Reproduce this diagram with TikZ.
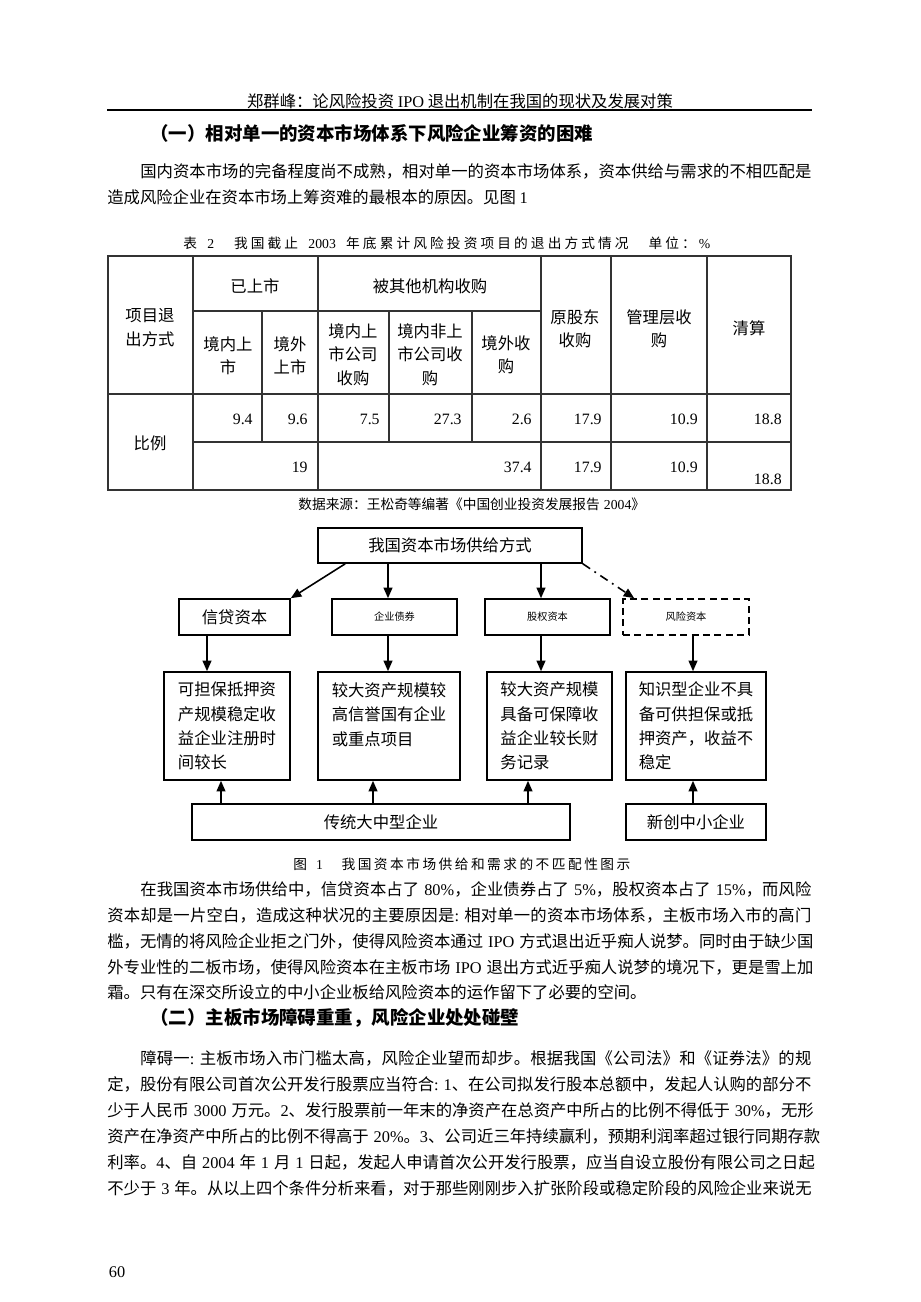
\documentclass[tikz,border=0pt]{standalone}
\usepackage{fontspec}
\setmainfont{Liberation Serif}
\newfontfamily\cjk{Noto Sans CJK SC}
\usetikzlibrary{arrows.meta,calc}
\newdimen\pxlen \pxlen=0.02cm
\newcommand\en[1]{{\rmfamily #1}}
\newcommand\gap{\hskip 0.3em\relax}
\def\spread#1{\spreadA#1\relax}
\def\spreadA#1{\ifx\relax#1\else #1\hskip 0pt plus 1fil\expandafter\spreadA\fi}
\newcommand\jline[4]{\node[body,anchor=base west,inner sep=0pt] (#1) at (#2,#3) {\hbox to \dimexpr\pxlen*\numexpr811-#2\relax\relax{\spread{#4}\unskip}};}
\newcommand\lline[4]{\node[body,anchor=base west,inner sep=0pt] (#1) at (#2,#3) {#4};}

\begin{document}
\begin{tikzpicture}[x=0.02cm,y=-0.02cm,
  body/.style={font=\cjk\fontsize{9.3}{14}\selectfont},
  head/.style={anchor=west,inner sep=0pt,font=\cjk\bfseries\fontsize{10.5}{12}\selectfont},
  capt/.style={anchor=base west,inner sep=0pt,font=\cjk\fontsize{7.8}{9}\selectfont},
  bx/.style={draw,line width=0.9pt,inner sep=0pt,font=\cjk\fontsize{9.3}{13.8}\selectfont},
  small/.style={font=\cjk\fontsize{5.8}{7}\selectfont},
  arr/.style={line width=0.9pt,-{Triangle[length=6pt,width=5pt]}},
  tline/.style={line width=0.9pt,draw=black!80},
  tcell/.style={inner sep=0pt,align=center,font=\cjk\fontsize{9.3}{13.3}\selectfont},
  num/.style={inner sep=0pt,anchor=east,font=\fontsize{9}{11}\selectfont}]

\fill[white] (0,0) rectangle (920,1302);
\useasboundingbox (0,0) rectangle (920,1302);

% running head
\node[body] (hdr) at (460,101) {郑群峰：论风险投资 \en{IPO} 退出机制在我国的现状及发展对策};
\draw[line width=0.6pt] (107,110) -- (812,110);

\node[head] (h1) at (150,133) {（一）相对单一的资本市场体系下风险企业筹资的困难};
\jline{pa1}{140}{177}{国内资本市场的完备程度尚不成熟，相对单一的资本市场体系，资本供给与需求的不相匹配是}
\lline{pa2}{107}{203}{造成风险企业在资本市场上筹资难的最根本的原因。见图 \en{1}}

% table 2
\node[capt] (tcap) at (183,248) {\hbox to 527\pxlen{\spread{表\gap{\en{2}}　我国截止\gap{\en{2003}}\gap 年底累计风险投资项目的退出方式情况　单位：{\en{\%}}}\unskip}};

\draw[tline] (108,256) rectangle (791,490);
\draw[tline] (193,256) -- (193,490);
\draw[tline] (318,256) -- (318,490);
\draw[tline] (541,256) -- (541,490);
\draw[tline] (611,256) -- (611,490);
\draw[tline] (707,256) -- (707,490);
\draw[tline] (193,311) -- (541,311);
\draw[tline] (108,394) -- (791,394);
\draw[tline] (193,442) -- (791,442);
\draw[tline] (262,311) -- (262,442);
\draw[tline] (389,311) -- (389,442);
\draw[tline] (472,311) -- (472,442);

\node[tcell] (t0) at (150,327.5) {项目退\\出方式};
\node[tcell] (t1) at (255,286) {已上市};
\node[tcell] (t2) at (430,286) {被其他机构收购};
\node[tcell] (t3) at (228,355.5) {境内上\\市};
\node[tcell] (t4) at (290,355.5) {境外\\上市};
\node[tcell] (t5) at (353,354.5) {境内上\\市公司\\收购};
\node[tcell] (t6) at (430,354.5) {境内非上\\市公司收\\购};
\node[tcell] (t7) at (506,354.5) {境外收\\购};
\node[tcell] (t8) at (575,328.5) {原股东\\收购};
\node[tcell] (t9) at (659,328.5) {管理层收\\购};
\node[tcell] (t10) at (749,328) {清算};
\node[tcell] (t11) at (150,443) {比例};

\node[num] (n1) at (253,419) {9.4};
\node[num] (n2) at (308,419) {9.6};
\node[num] (n3) at (380,419) {7.5};
\node[num] (n4) at (462,419) {27.3};
\node[num] (n5) at (532,419) {2.6};
\node[num] (n6) at (602,419) {17.9};
\node[num] (n7) at (698,419) {10.9};
\node[num] (n8) at (782,419) {18.8};
\node[num] (m1) at (308,467) {19};
\node[num] (m2) at (532,467) {37.4};
\node[num] (m3) at (602,467) {17.9};
\node[num] (m4) at (698,467) {10.9};
\node[num] (m5) at (782,479) {18.8};

\node[capt] (src) at (298,509) {\hbox to 341\pxlen{\spread{数据来源：王松奇等编著《中国创业投资发展报告\gap{\en{2004}}》}\unskip}};

% figure 1
\node[bx,minimum width=264\pxlen,minimum height=35\pxlen] (top) at (450,545.5) {我国资本市场供给方式};
\node[bx,minimum width=111\pxlen,minimum height=36\pxlen] (credit) at (234.5,617) {信贷资本};
\node[bx,small,minimum width=125\pxlen,minimum height=36\pxlen] (bond) at (394.5,617) {企业债券};
\node[bx,small,minimum width=125\pxlen,minimum height=36\pxlen] (equity) at (547.5,617) {股权资本};
\node[bx,small,dash pattern=on 4pt off 2.5pt,minimum width=126\pxlen,minimum height=36\pxlen] (venture) at (686,617) {风险资本};

\node[bx,align=left,minimum width=126\pxlen,minimum height=108\pxlen] (d1) at (227,726) {可担保抵押资\\产规模稳定收\\益企业注册时\\间较长};
\node[bx,align=left,minimum width=142\pxlen,minimum height=108\pxlen] (d2) at (389,726) {较大资产规模较\\高信誉国有企业\\或重点项目\\\mbox{}};
\node[bx,align=left,minimum width=125\pxlen,minimum height=108\pxlen] (d3) at (549.5,726) {较大资产规模\\具备可保障收\\益企业较长财\\务记录};
\node[bx,align=left,minimum width=140\pxlen,minimum height=108\pxlen] (d4) at (696,726) {知识型企业不具\\备可供担保或抵\\押资产，收益不\\稳定};

\node[bx,minimum width=378\pxlen,minimum height=36\pxlen] (trad) at (381,822) {传统大中型企业};
\node[bx,minimum width=140\pxlen,minimum height=36\pxlen] (sme) at (696,822) {新创中小企业};

\coordinate (xa) at (207,0);
\coordinate (xb) at (388,0);
\coordinate (xe) at (541,0);
\coordinate (xd) at (693,0);
\coordinate (u1) at (221,0);
\coordinate (u2) at (373,0);
\coordinate (u3) at (528,0);

\draw[arr] ($(top.south west)+(28,0)$) -- (credit.north east);
\draw[arr] (top.south -| xb) -- (bond.north -| xb);
\draw[arr] (top.south -| xe) -- (equity.north -| xe);
\draw[arr,dash pattern=on 5pt off 3pt on 1pt off 3pt] (top.south east) -- ($(venture.north west)+(12,0)$);

\draw[arr] (credit.south -| xa) -- (d1.north -| xa);
\draw[arr] (bond.south -| xb) -- (d2.north -| xb);
\draw[arr] (equity.south -| xe) -- (d3.north -| xe);
\draw[arr] (venture.south -| xd) -- (d4.north -| xd);

\draw[arr] (trad.north -| u1) -- (d1.south -| u1);
\draw[arr] (trad.north -| u2) -- (d2.south -| u2);
\draw[arr] (trad.north -| u3) -- (d3.south -| u3);
\draw[arr] (sme.north -| xd) -- (d4.south -| xd);

\node[capt] (fcap) at (293,869) {\hbox to 337\pxlen{\spread{图\gap{\en{1}}　我国资本市场供给和需求的不匹配性图示}\unskip}};

\jline{pb1}{140}{895}{在我国资本市场供给中，信贷资本占了\gap{\en{80\%}}，企业债券占了\gap{\en{5\%}}，股权资本占了\gap{\en{15\%}}，而风险}
\jline{pb2}{107}{921}{资本却是一片空白，造成这种状况的主要原因是{\en{:}}\gap 相对单一的资本市场体系，主板市场入市的高门}
\jline{pb3}{107}{947}{槛，无情的将风险企业拒之门外，使得风险资本通过\gap{\en{IPO}}\gap 方式退出近乎痴人说梦。同时由于缺少国}
\jline{pb4}{107}{973}{外专业性的二板市场，使得风险资本在主板市场\gap{\en{IPO}}\gap 退出方式近乎痴人说梦的境况下，更是雪上加}
\lline{pb5}{107}{998}{霜。只有在深交所设立的中小企业板给风险资本的运作留下了必要的空间。}

\node[head] (h2) at (150,1018) {（二）主板市场障碍重重，风险企业处处碰壁};
\jline{pc1}{140}{1064}{障碍一{\en{:}}\gap 主板市场入市门槛太高，风险企业望而却步。根据我国《公司法》和《证券法》的规}
\jline{pc2}{107}{1090}{定，股份有限公司首次公开发行股票应当符合{\en{:}}\gap{\en{1}}、在公司拟发行股本总额中，发起人认购的部分不}
\jline{pc3}{107}{1116}{少于人民币\gap{\en{3000}}\gap 万元。{\en{2}}、发行股票前一年末的净资产在总资产中所占的比例不得低于\gap{\en{30\%}}，无形}
\jline{pc4}{107}{1142}{资产在净资产中所占的比例不得高于\gap{\en{20\%}}。{\en{3}}、公司近三年持续赢利，预期利润率超过银行同期存款}
\jline{pc5}{107}{1168}{利率。{\en{4}}、自\gap{\en{2004}}\gap 年\gap{\en{1}}\gap 月\gap{\en{1}}\gap 日起，发起人申请首次公开发行股票，应当自设立股份有限公司之日起}
\jline{pc6}{107}{1194}{不少于\gap{\en{3}}\gap 年。从以上四个条件分析来看，对于那些刚刚步入扩张阶段或稳定阶段的风险企业来说无}

\node[body,font=\fontsize{9.3}{11}\selectfont] (pg) at (117,1272) {60};
\end{tikzpicture}
\end{document}
